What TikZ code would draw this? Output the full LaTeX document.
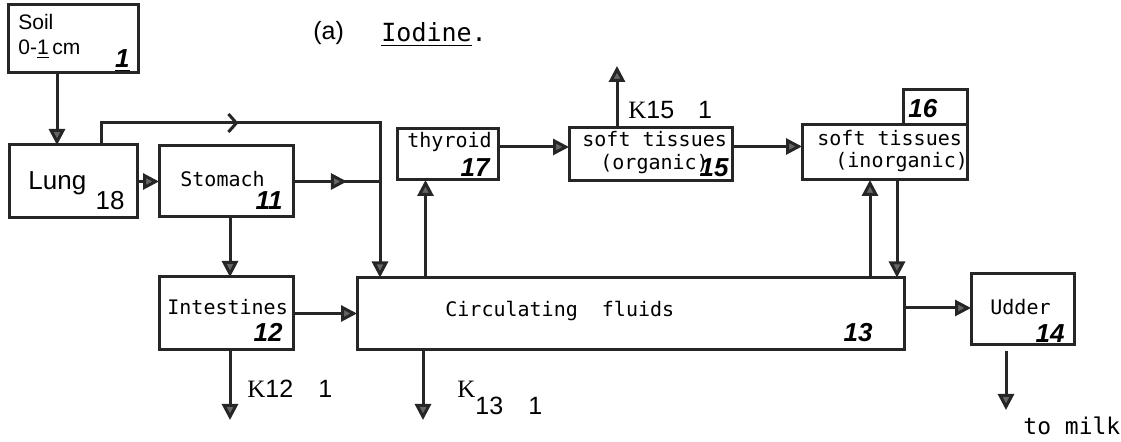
\documentclass[tikz,border=0pt]{standalone}
\usepackage{fontspec}
\newfontfamily\twfont{DejaVu Sans Mono}
\newfontfamily\handfont{Liberation Sans}
\newfontfamily\kserif{Liberation Serif}
\usetikzlibrary{positioning, arrows.meta, decorations.markings}

\begin{document}
\begin{tikzpicture}[x=0.5pt, y=-0.5pt, >={Triangle[length=8pt,width=8pt,fill=black!60]}]
  % Styles
  \tikzset{box/.style={draw=black!85, line width=1.5pt, inner sep=0pt, outer sep=0pt}}
  \tikzset{line/.style={draw=black!85, line width=1.5pt}}
  \tikzset{flow/.style={line, ->}}
  \tikzset{tw/.style={font=\twfont\fontsize{10}{12}\selectfont, inner sep=0pt, anchor=base west}}
  \tikzset{num/.style={font=\handfont\itshape\bfseries\fontsize{13}{15}\selectfont, inner sep=0pt, anchor=base east}}
  \tikzset{hand/.style={font=\handfont\fontsize{10.5}{12}\selectfont, inner sep=0pt, anchor=base west}}
  \tikzset{klabel/.style={font=\handfont\fontsize{12.5}{15}\selectfont, inner sep=0pt, anchor=base west}}
  \tikzset{midbarb/.style={postaction={decorate, decoration={markings,
    mark=at position #1 with {\arrow{Straight Barb[length=4pt,width=9pt]}}}}}}
  \tikzset{midtip/.style={postaction={decorate, decoration={markings,
    mark=at position #1 with {\arrow{Triangle[length=8pt,width=8pt,fill=black!60]}}}}}}

  \useasboundingbox (0,0) rectangle (1121,442);

  % --- Boxes ---
  \node[box, minimum width=65pt, minimum height=34pt] (soil) at (73,39) {};
  \node[box, minimum width=64pt, minimum height=36.5pt, below=36pt of soil] (lung) {};
  \node[box, minimum width=67pt, minimum height=35.5pt, right=11pt of lung] (stomach) {};
  \node[box, minimum width=67pt, minimum height=36.5pt, below=30pt of stomach] (intestines) {};
  \node[box, minimum width=273.5pt, minimum height=36pt, right=32pt of intestines] (circ) {};
  \node[box, minimum width=50.5pt, minimum height=25.5pt] (thyroid) at (447.5,154.5) {};
  \node[box, minimum width=81.5pt, minimum height=26.5pt, right=35.5pt of thyroid] (organic) {};
  \node[box, minimum width=82.5pt, minimum height=27.5pt, right=35pt of organic, yshift=1pt] (inorganic) {};
  \node[box, minimum width=32pt, minimum height=17.5pt, anchor=south east] (compno) at (inorganic.north east) {};
  \node[box, minimum width=51.5pt, minimum height=35.5pt, right=33.5pt of circ, yshift=2.25pt] (udder) {};

  % --- Box texts ---
  \node[hand] (soiltxt) at (18,30) {Soil};
  \node[hand] (depthtxt) at (18,55) {0-\underline{1}\,cm};
  \node[num] (soilnum) at (130,68) {\underline{1}};
  \node[hand, font=\handfont\fontsize{13}{15}\selectfont] (lungtxt) at (28,190) {Lung};
  \node[num, font=\handfont\fontsize{13}{15}\selectfont] (lungnum) at (125,210) {18};
  \node[tw] (stomachtxt) at (180,187) {Stomach};
  \node[num] (stomachnum) at (283,210) {11};
  \node[tw] (intestinestxt) at (167,315) {Intestines};
  \node[num] (intestinesnum) at (283,342) {12};
  \node[tw] (circtxt) at (445,317) {Circulating\ \ fluids};
  \node[num] (circnum) at (873,342) {13};
  \node[tw] (thyroidtxt) at (407,148) {thyroid};
  \node[num] (thyroidnum) at (490,177) {17};
  \node[tw] (organictxt) at (582,147) {soft tissues};
  \node[tw] (organictxtb) at (600,170) {(organic)};
  \node[num] (organicnum) at (729,177) {15};
  \node[tw] (inorganictxt) at (817,146) {soft tissues};
  \node[tw] (inorganictxtb) at (835,168) {(inorganic)};
  \node[num, anchor=base west] (inorganicnum) at (908,118) {16};
  \node[tw] (uddertxt) at (990,315) {Udder};
  \node[num] (uddernum) at (1065,343) {14};

  % --- Title and free texts ---
  \node[hand, font=\handfont\fontsize{12.5}{15}\selectfont] (tag) at (313,40) {(a)};
  \node[tw, font=\twfont\fontsize{12.5}{15}\selectfont] (title) at (381,42) {\underline{Iodine}.};
  \node[klabel] (k12txt) at (247,398) {{\kserif K}12\hspace{1em}1};
  \node[klabel] (k13txt) at (457,398) {{\kserif K}\raisebox{-8.5pt}{13\hspace{1em}1}};
  \node[klabel] (k15txt) at (628,119) {{\kserif K}15\hspace{0.95em}1};
  \node[tw, font=\twfont\fontsize{11.5}{14}\selectfont] (milktxt) at (1023,435) {to milk};

  % --- Free ends ---
  \coordinate (junction) at (380,123);
  \coordinate (k12end) at (230,420);
  \coordinate (k13end) at (423,420);
  \coordinate (k15end) at (617,66);
  \coordinate (milkend) at (1006,410);

  % --- Transitions ---
  \draw[flow] ([xshift=-8pt]soil.south) -- ([xshift=-8pt]soil.south |- lung.north);
  \draw[flow, midbarb=0.35] ([xshift=14pt]lung.north) |- (junction) -- (junction |- circ.north);
  \draw[flow] (lung.east) -- (stomach.west);
  \draw[line, midtip=0.62] (stomach.east) -- (stomach.east -| junction);
  \draw[flow] ([xshift=2pt]stomach.south) -- ([xshift=2pt]stomach.south |- intestines.north);
  \draw[flow] (intestines.east) -- (circ.west);
  \draw[flow] (intestines.south -| k12end) -- (k12end);
  \draw[flow] (circ.south -| k13end) -- (k13end);
  \draw[flow] ([xshift=-11pt]thyroid.south |- circ.north) -- ([xshift=-11pt]thyroid.south);
  \draw[flow] ([yshift=3.75pt]thyroid.east) -- ([yshift=3.75pt]thyroid.east -| organic.west);
  \draw[flow] (organic.north -| k15end) -- (k15end);
  \draw[flow] ([yshift=4pt]organic.east) -- ([yshift=4pt]organic.east -| inorganic.west);
  \draw[flow] ([xshift=-7.25pt]inorganic.south |- circ.north) -- ([xshift=-7.25pt]inorganic.south);
  \draw[flow] ([xshift=6.25pt]inorganic.south) -- ([xshift=6.25pt]inorganic.south |- circ.north);
  \draw[flow] ([yshift=2.75pt]circ.east) -- ([yshift=2.75pt]circ.east -| udder.west);
  \draw[flow] ([yshift=-3.5pt]udder.south -| milkend) -- (milkend);

\end{tikzpicture}
\end{document}
